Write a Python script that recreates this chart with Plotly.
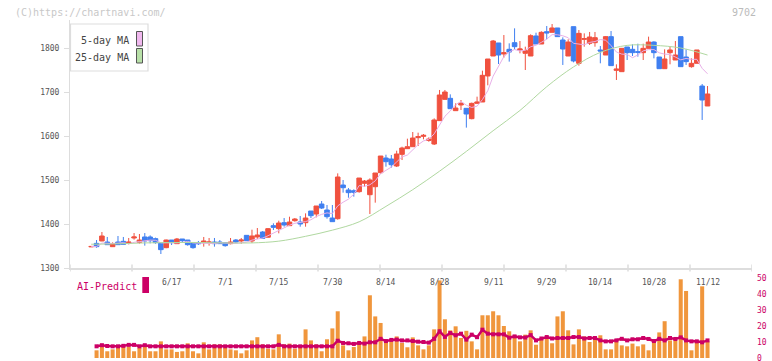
import plotly.graph_objects as go
import pandas as pd

# ---------------- data ----------------
opens = [1348, 1356, 1361.4, 1359, 1348.5, 1359, 1360.6, 1356.1, 1368.2, 1358.3,
         1370.5, 1370.5, 1366.7, 1356.1, 1346.2, 1363.6, 1355.3, 1365.9, 1363.6, 1357.6,
         1357.6, 1357.6, 1357.6, 1359.1, 1359.1, 1357.6, 1355.3, 1363.6, 1361.4, 1374.2,
         1361.4, 1370.5, 1381.8, 1370, 1396.2, 1389.4, 1403, 1396.2, 1407.5, 1404.5,
         1403, 1429.5, 1422.7, 1445.4, 1431.8, 1413.6, 1412.1, 1488.6, 1477.3, 1475.7,
         1473.5, 1492.4, 1466.6, 1484.8, 1516.6, 1550, 1547.7, 1531.8, 1558.3, 1571.2,
         1575.7, 1596.2, 1599.2, 1590, 1581.8, 1634.9, 1683.3, 1685.6, 1657.6, 1670.5,
         1662.9, 1639.4, 1674.2, 1677.3, 1736.4, 1781.8, 1811.4, 1786.4, 1797, 1812.1,
         1795.5, 1787.9, 1781.8, 1827.3, 1809.1, 1837.1, 1835.6, 1845.5, 1818.2, 1781.8,
         1848.5, 1765.2, 1819.7, 1810.6, 1812.1, 1795.5, 1784.1, 1825.8, 1749.2, 1746.2,
         1802.3, 1797, 1791.7, 1789.4, 1799.2, 1813.6, 1779.5, 1753, 1789.4, 1772.7,
         1825.8, 1779.5, 1757.6, 1765.2, 1713.6, 1668.2]
highs = [1349, 1363.6, 1381.8, 1370.5, 1358.3, 1372.7, 1370.5, 1368.2, 1379.5, 1377.3,
         1379.5, 1374.2, 1369, 1357, 1364.4, 1363.6, 1368.2, 1365.9, 1363.6, 1357.6,
         1361.4, 1370.5, 1368.2, 1368.2, 1363.6, 1357.6, 1368.2, 1365.9, 1368.2, 1374.2,
         1387.1, 1390.9, 1384.1, 1390.9, 1401.5, 1407.5, 1413.6, 1416.6, 1413.6, 1418.2,
         1424.2, 1429.5, 1440.9, 1452.2, 1443.2, 1443.2, 1515.1, 1500, 1481.8, 1478.8,
         1504.5, 1500, 1503.8, 1515.9, 1554.5, 1557.5, 1556.8, 1566.6, 1575.7, 1593.9,
         1609.1, 1607.6, 1604.5, 1597, 1640.1, 1704.6, 1704.6, 1694.7, 1674.2, 1681.8,
         1662.9, 1675.8, 1689.4, 1748.5, 1775, 1818.2, 1811.4, 1829.5, 1810.6, 1844.7,
         1815.9, 1803, 1831.1, 1834.8, 1837.9, 1850, 1854.5, 1845.5, 1824.2, 1819.7,
         1848.5, 1840.9, 1833.3, 1836.4, 1836.4, 1804.5, 1827.3, 1838.6, 1762.9, 1799.2,
         1802.3, 1808.3, 1809.8, 1809.8, 1825.8, 1815.2, 1779.5, 1797, 1803, 1815.9,
         1825.8, 1797, 1776.5, 1795.5, 1718.2, 1713.6]
lows = [1348, 1346, 1361, 1353, 1348.5, 1353, 1353.8, 1353.8, 1364.4, 1355.3,
        1350.8, 1356.1, 1355.3, 1331.8, 1345, 1352.3, 1355.3, 1357.6, 1350.8, 1343.9,
        1352.3, 1348.5, 1350.8, 1348.5, 1355.3, 1348.5, 1353.8, 1357.6, 1355.3, 1362.1,
        1356.8, 1365.9, 1367.4, 1369, 1386.3, 1378.8, 1393.9, 1396.2, 1405.3, 1393.9,
        1393.9, 1413.6, 1415.1, 1434.1, 1412.1, 1405.3, 1409.8, 1471.2, 1459.8, 1462.1,
        1471.2, 1484.8, 1422.7, 1448.5, 1514.4, 1530.3, 1528, 1529.5, 1545.4, 1571.2,
        1575.7, 1577.2, 1592.4, 1587, 1579.5, 1634.9, 1683.3, 1662.1, 1657.6, 1659.1,
        1619, 1637.9, 1674.2, 1677.3, 1715.2, 1781.8, 1763.6, 1778, 1769, 1797,
        1787.9, 1750, 1781.8, 1809.1, 1809.1, 1819.7, 1835.6, 1825.8, 1761.4, 1781.8,
        1767.4, 1759.9, 1803, 1806.8, 1803, 1765.2, 1784.1, 1759.9, 1727.3, 1746.2,
        1772.7, 1781.8, 1780.3, 1772.7, 1799.2, 1776.5, 1753, 1753, 1762.9, 1772.7,
        1757.6, 1761.4, 1755.3, 1765.2, 1636.4, 1668.2]
closes = [1349, 1348.5, 1372.7, 1353, 1355.3, 1353, 1353.8, 1359.1, 1370.5, 1363.6,
          1361.4, 1362.1, 1357.6, 1341.7, 1363.6, 1357.6, 1365.9, 1362.1, 1353, 1346.2,
          1355.3, 1361.4, 1359.1, 1355.3, 1355.3, 1350.8, 1359.1, 1359.1, 1363.6, 1362.1,
          1372.7, 1375, 1367.4, 1389.4, 1392.4, 1402.2, 1397.7, 1404.5, 1411.3, 1400,
          1413.6, 1418.9, 1440.9, 1436.3, 1416.6, 1405.3, 1506.8, 1482.5, 1471.2, 1472,
          1504.5, 1497.7, 1500, 1515.9, 1554.5, 1541.6, 1534.8, 1559.1, 1572.7, 1575.7,
          1595.4, 1598.5, 1601.5, 1593, 1636.4, 1693.2, 1700, 1662.1, 1663.6, 1674.2,
          1650, 1674.2, 1677.3, 1737.9, 1775, 1815.9, 1784.1, 1789.4, 1790.9, 1803,
          1797.7, 1794, 1828, 1809.1, 1835.6, 1834.1, 1845.5, 1825.8, 1797.7, 1813.6,
          1770.5, 1833.3, 1821.2, 1825, 1823.5, 1793.2, 1825.8, 1759.9, 1752.3, 1799.2,
          1789.4, 1789.4, 1790.2, 1799.2, 1813.6, 1789.4, 1753, 1775, 1795.5, 1784.1,
          1757.6, 1769, 1765.2, 1795.5, 1681.8, 1695.5]

volume = [None, 4.8, 8.5, 4.2, 5.4, 6.9, 7.5, 6.9, 4.2, 6.3,
          7.5, 4.2, 4.2, 10.4, 5.4, 5.4, 3.8, 4.2, 9.2, 4.2,
          2.9, 9.8, 5.4, 8.5, 8.5, 6.3, 5.4, 4.8, 2.9, 4.8,
          11, 13, 8.5, 5.8, 5.4, 14.8, 8.5, 9, 5.8, 7.2,
          17.9, 11, 8.5, 4.2, 11.7, 18.5, 29.2, 7.9, 4.8, 6.9,
          8.5, 13.5, 39.2, 26, 21.9, 11, 10.4, 13.5, 9.4, 6.7,
          12.9, 7.9, 5.4, 7.9, 17.9, 48.5, 24.2, 17.3, 19.8, 12.5,
          17, 10.4, 5.4, 26.7, 26.7, 29.2, 26.7, 20, 16.7, 14,
          10.4, 14.6, 17.3, 8.3, 11.5, 12.5, 9.2, 26, 29.2, 17.3,
          8.5, 17.9, 13.5, 10, 13.1, 14.2, 5.4, 5.4, 11, 7.9,
          7.3, 9, 7.3, 8.5, 4.8, 11, 16, 23, 11, 11,
          49.2, 41.9, 4.8, 10, 44.8, 10.4]

ai_predict = [None, 7.3, 8.0, 7.5, 7.3, 7.3, 7.6, 8.2, 8.2, 7.3,
              8.0, 7.3, 7.3, 7.3, 7.3, 7.3, 7.3, 7.3, 7.3, 7.3,
              7.3, 7.3, 7.3, 7.3, 7.3, 7.3, 7.3, 7.3, 7.3, 7.3,
              7.3, 7.3, 7.3, 7.3, 7.3, 8.2, 7.3, 7.3, 7.3, 7.3,
              7.3, 7.3, 7.3, 7.3, 7.3, 7.3, 10.8, 9.4, 9.2, 8.8,
              9.4, 9.0, 9.8, 9.8, 12.0, 10.6, 11.3, 11.5, 11.0, 11.0,
              10.6, 10.2, 10.0, 9.6, 12.0, 16.7, 13.2, 15.6, 14.2, 15.2,
              11.5, 14.6, 13.0, 17.7, 15.2, 14.8, 14.8, 14.8, 12.7, 13.5,
              12.9, 12.8, 14.3, 11.0, 12.2, 13.1, 12.2, 12.5, 12.5, 12.5,
              13.1, 13.1, 12.2, 12.5, 12.5, 11.0, 10.4, 10.4, 11.0, 12.0,
              11.0, 11.7, 11.7, 12.5, 11.9, 10.6, 12.0, 11.0, 12.5, 11.9,
              12.9, 11.0, 10.4, 10.4, 9.8, 11.0]

ma25_idx = [0, 5, 10, 15, 20, 25, 30, 35, 40, 45, 50, 55, 60, 65, 70, 75, 80, 85,
            90, 95, 100, 105, 110, 115]
ma25_vals = [1354, 1355, 1357, 1358, 1358, 1357, 1357, 1361, 1372, 1386, 1405, 1440,
             1478, 1520, 1565, 1612, 1658, 1712, 1757, 1790, 1806, 1806, 1800, 1784]

tick_idx = [15, 25, 35, 45, 55, 65, 75, 85, 95, 105, 115]
tick_labels = ["6/17", "7/1", "7/15", "7/30", "8/14", "8/28", "9/11", "9/29",
               "10/14", "10/28", "11/12"]

price_ticks = [1300, 1400, 1500, 1600, 1700, 1800]
vol_ticks = [0, 10, 20, 30, 40, 50]

idx = list(range(len(closes)))
ma5 = pd.Series(closes).rolling(5, min_periods=1).mean().tolist()

# ---------------- styling ----------------
RED = "#f0513f"
BLUE = "#3f7ff0"
ORANGE = "#f0963c"
CRIM = "#cc0066"
PINK = "#e8b0e8"
GREEN = "#b0d8a0"
AXIS = "#dddddd"
FONT = "DejaVu Sans Mono"

W, H = 772, 361
L, R, T, B = 70, 20, 20, 3
PW, PH = W - L - R, H - T - B


def px_x(px):
    return (px - L) / PW


def px_y(py):
    return (H - B - py) / PH


XL, XR = -3.955, 123.3
YTOP_DOM = (px_y(268), 1.0)
YBOT_DOM = (0.0, px_y(278))

fig = go.Figure()
fig.add_trace(go.Candlestick(
    x=idx, open=opens, high=highs, low=lows, close=closes,
    increasing=dict(line=dict(color=RED, width=1), fillcolor=RED),
    decreasing=dict(line=dict(color=BLUE, width=1), fillcolor=BLUE),
    whiskerwidth=0, hoverinfo="skip", xaxis="x", yaxis="y"))
fig.add_trace(go.Scatter(x=idx, y=ma5, mode="lines",
                         line=dict(color=PINK, width=1), hoverinfo="skip",
                         xaxis="x", yaxis="y"))
fig.add_trace(go.Scatter(x=ma25_idx, y=ma25_vals, mode="lines",
                         line=dict(color=GREEN, width=1, shape="spline"),
                         hoverinfo="skip", xaxis="x", yaxis="y"))
fig.add_trace(go.Bar(x=idx, y=volume, marker=dict(color=ORANGE, line=dict(width=0)),
                     hoverinfo="skip", xaxis="x2", yaxis="y2"))
fig.add_trace(go.Scatter(x=idx, y=ai_predict, mode="lines+markers",
                         line=dict(color=CRIM, width=2.5),
                         marker=dict(symbol="square", size=4, color=CRIM),
                         hoverinfo="skip", xaxis="x2", yaxis="y2"))

shapes = []
# x tick marks (equal spacing along the axis)
for k in range(12):
    xv = XL + k * (XR - XL) / 11
    shapes.append(dict(type="line", xref="x", yref="paper", x0=xv, x1=xv,
                       y0=px_y(271.5), y1=px_y(264.5),
                       line=dict(color=AXIS, width=1.5)))
# legend box
shapes.append(dict(type="rect", xref="paper", yref="paper",
                   x0=px_x(70.5), x1=px_x(148), y0=px_y(24), y1=px_y(71),
                   fillcolor="white", line=dict(color=AXIS, width=1.2), layer="above"))
shapes.append(dict(type="rect", xref="paper", yref="paper",
                   x0=px_x(136.5), x1=px_x(142.5), y0=px_y(31.5), y1=px_y(46),
                   fillcolor="#f0b8ee", line=dict(color="#555555", width=1), layer="above"))
shapes.append(dict(type="rect", xref="paper", yref="paper",
                   x0=px_x(136.5), x1=px_x(142.5), y0=px_y(48.5), y1=px_y(63),
                   fillcolor="#b8e0a8", line=dict(color="#555555", width=1), layer="above"))
# AI-Predict swatch
shapes.append(dict(type="rect", xref="paper", yref="paper",
                   x0=px_x(142.3), x1=px_x(149), y0=px_y(277), y1=px_y(293),
                   fillcolor=CRIM, line=dict(width=0)))

annotations = []
for i, t in zip(tick_idx, tick_labels):
    annotations.append(dict(x=i, xref="x", y=px_y(282), yref="paper", text=t,
                            showarrow=False, xanchor="center", yanchor="middle",
                            font=dict(family=FONT, size=8, color="#555555")))
annotations.append(dict(x=px_x(130.5), xref="paper", y=px_y(40.5), yref="paper",
                        text="5-day MA", showarrow=False, xanchor="right", yanchor="middle",
                        font=dict(family=FONT, size=10, color="#444444")))
annotations.append(dict(x=px_x(130.5), xref="paper", y=px_y(57.5), yref="paper",
                        text="25-day MA", showarrow=False, xanchor="right", yanchor="middle",
                        font=dict(family=FONT, size=10, color="#444444")))
annotations.append(dict(x=px_x(13), xref="paper", y=px_y(12), yref="paper",
                        text="(C)https://chartnavi.com/", showarrow=False,
                        xanchor="left", yanchor="middle",
                        font=dict(family=FONT, size=10, color="#c8c8c8")))
annotations.append(dict(x=px_x(758), xref="paper", y=px_y(12), yref="paper",
                        text="9702", showarrow=False, xanchor="right", yanchor="middle",
                        font=dict(family=FONT, size=10, color="#bbbbbb")))
annotations.append(dict(x=px_x(75), xref="paper", y=px_y(286), yref="paper",
                        text="AI-Predict", showarrow=False, xanchor="left", yanchor="middle",
                        font=dict(family=FONT, size=10, color=CRIM)))

fig.update_layout(
    width=W, height=H, margin=dict(l=L, r=R, t=T, b=B, autoexpand=False),
    paper_bgcolor="white", plot_bgcolor="white", showlegend=False,
    boxgap=0.15, boxgroupgap=0, bargap=0.25,
    shapes=shapes, annotations=annotations,
    xaxis=dict(domain=[0, 1], range=[XL, XR], anchor="y", showticklabels=False,
               ticks="", showgrid=False, zeroline=False, showline=True,
               linecolor=AXIS, linewidth=1.5, rangeslider=dict(visible=False),
               fixedrange=True, automargin=False),
    yaxis=dict(domain=list(YTOP_DOM), range=[1300, 1300 + 248 / 0.44], anchor="x",
               tickvals=price_ticks, ticks="outside", ticklen=5, tickcolor=AXIS,
               showgrid=False, zeroline=False, showline=True, linecolor=AXIS,
               linewidth=1, tickfont=dict(family=FONT, size=8, color="#555555"),
               ticklabelstandoff=3, fixedrange=True, automargin=False,
               ticklabeloverflow="allow"),
    xaxis2=dict(domain=[0, 1], range=[XL, XR], anchor="y2", matches="x",
                visible=False, fixedrange=True, automargin=False),
    yaxis2=dict(domain=list(YBOT_DOM), range=[0, 50], anchor="x2", side="right",
                tickvals=vol_ticks, ticks="", showgrid=False, zeroline=False,
                showline=False, tickfont=dict(family=FONT, size=8, color=CRIM),
                ticklabelstandoff=4, fixedrange=True, automargin=False,
                ticklabeloverflow="allow"),
)

fig.write_html("out.html", config={"displayModeBar": False},
               post_script="document.body.style.margin='0';document.body.style.padding='0';")
